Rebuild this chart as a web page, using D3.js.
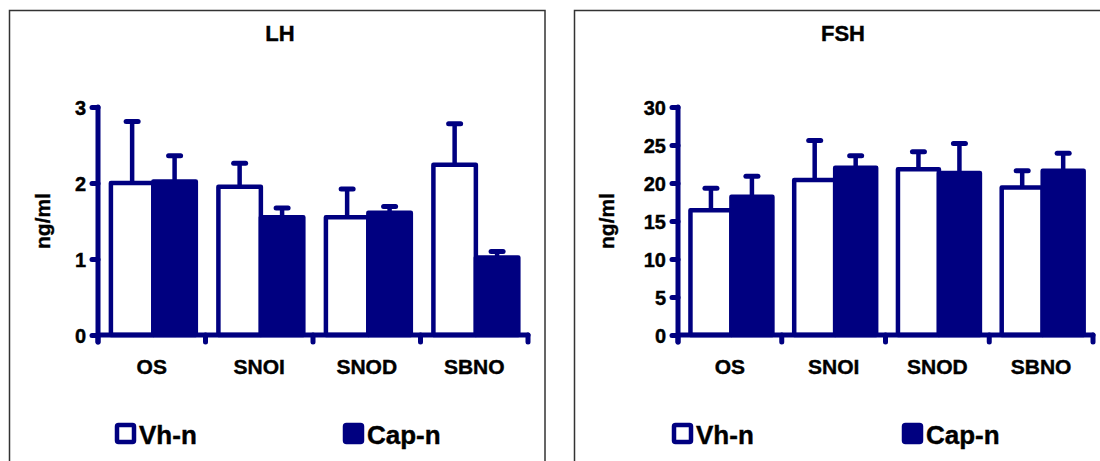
<!DOCTYPE html>
<html>
<head>
<meta charset="utf-8">
<script src="https://cdn.jsdelivr.net/npm/d3@7"></script>
<style>
  body { margin: 0; background: #fff; }
  text { font-family: Arial, "Liberation Sans", sans-serif; font-weight: bold; fill: #000; stroke: #000; stroke-width: 0.4px; }
</style>
</head>
<body>
<script>
var categories = ["OS", "SNOI", "SNOD", "SBNO"];
var seriesNames = ["Vh-n", "Cap-n"];

// LH (ng/ml): means and upper error bar ends
var lhVh = [2.0, 1.95, 1.55, 2.24];
var lhVhErr = [2.81, 2.26, 1.92, 2.78];
var lhCap = [2.02, 1.55, 1.61, 1.02];
var lhCapErr = [2.36, 1.67, 1.69, 1.10];
var lhTicks = [0, 1, 2, 3];

// FSH (ng/ml)
var fshVh = [16.4, 20.4, 21.8, 19.4];
var fshVhErr = [19.3, 25.6, 24.1, 21.6];
var fshCap = [18.2, 22.0, 21.3, 21.6];
var fshCapErr = [20.9, 23.6, 25.2, 23.9];
var fshTicks = [0, 5, 10, 15, 20, 25, 30];

var navy = "#000080";
var W = 1100, H = 461;

var svg = d3.select("body").append("svg")
    .attr("width", W)
    .attr("height", H);

function drawPanel(p) {
    var g = svg.append("g");

    // panel frame
    g.append("rect")
        .attr("x", p.frame[0]).attr("y", 10.5)
        .attr("width", p.frame[1] - p.frame[0]).attr("height", H)
        .attr("fill", "none").attr("stroke", "#333").attr("stroke-width", 1.5);

    g.append("text")
        .attr("x", p.titleX).attr("y", 41)
        .attr("text-anchor", "middle")
        .style("font-size", "22px")
        .text(p.title);

    var x = d3.scaleBand().domain(categories).range([p.x0, p.x1]);
    var y = d3.scaleLinear().domain([0, p.max]).range([335, 107]);
    var bw = x.bandwidth() * 0.395, off = x.bandwidth() * 0.12;

    var rows = categories.map(function(c, i) {
        return [
            {cat: c, k: 0, v: p.vh[i], e: p.vhErr[i]},
            {cat: c, k: 1, v: p.cap[i], e: p.capErr[i]}
        ];
    }).flat();

    // error bars first, bars on top
    var err = g.selectAll(".err").data(rows).enter().append("g");
    err.append("line")
        .attr("x1", function(d) { return x(d.cat) + off + bw * d.k + bw / 2; })
        .attr("x2", function(d) { return x(d.cat) + off + bw * d.k + bw / 2; })
        .attr("y1", function(d) { return y(d.v); })
        .attr("y2", function(d) { return y(d.e); })
        .attr("stroke", navy).attr("stroke-width", 4.5);
    err.append("line")
        .attr("x1", function(d) { return x(d.cat) + off + bw * d.k + bw / 2 - 6; })
        .attr("x2", function(d) { return x(d.cat) + off + bw * d.k + bw / 2 + 6; })
        .attr("y1", function(d) { return y(d.e); })
        .attr("y2", function(d) { return y(d.e); })
        .attr("stroke", navy).attr("stroke-width", 5).attr("stroke-linecap", "round");

    g.selectAll(".bar").data(rows).enter().append("rect")
        .attr("x", function(d) { return x(d.cat) + off + bw * d.k; })
        .attr("y", function(d) { return y(d.v); })
        .attr("width", bw)
        .attr("height", function(d) { return y(0) - y(d.v); })
        .attr("fill", function(d) { return d.k ? navy : "#fff"; })
        .attr("stroke", navy).attr("stroke-width", 4.5)
        .attr("stroke-linejoin", "round");

    // y axis
    var ya = g.append("g").attr("transform", "translate(" + p.x0 + ",0)")
        .call(d3.axisLeft(y).tickValues(p.ticks).tickFormat(d3.format("d")).tickSize(6).tickPadding(6));
    ya.select(".domain").remove();
    ya.selectAll(".tick line").attr("stroke", navy).attr("stroke-width", 5).attr("stroke-linecap", "round");
    ya.selectAll(".tick text").style("font-size", "20px").attr("fill", "#000").attr("dy", "0.36em");
    g.append("line")
        .attr("x1", p.x0).attr("x2", p.x0).attr("y1", y(p.max)).attr("y2", y(0) + 7)
        .attr("stroke", navy).attr("stroke-width", 5).attr("stroke-linecap", "round");

    // x axis with ticks at category boundaries
    var edges = categories.map(function(c) { return x(c); }).concat([p.x1]);
    g.append("line")
        .attr("x1", p.x0).attr("x2", p.x1).attr("y1", y(0)).attr("y2", y(0))
        .attr("stroke", navy).attr("stroke-width", 5).attr("stroke-linecap", "round");
    g.selectAll(".xt").data(edges).enter().append("line")
        .attr("x1", function(d) { return d; }).attr("x2", function(d) { return d; })
        .attr("y1", y(0)).attr("y2", y(0) + 7)
        .attr("stroke", navy).attr("stroke-width", 5).attr("stroke-linecap", "round");
    g.selectAll(".xl").data(categories).enter().append("text")
        .attr("x", function(d) { return x(d) + x.bandwidth() / 2; })
        .attr("y", 374)
        .attr("text-anchor", "middle")
        .style("font-size", "21px")
        .text(function(d) { return d; });

    g.append("text")
        .attr("transform", "translate(" + (p.labelX) + ",221) rotate(-90)")
        .attr("text-anchor", "middle")
        .style("font-size", "21px")
        .text("ng/ml");

    // legend
    var lg = g.selectAll(".lg").data(seriesNames).enter().append("g")
        .attr("transform", function(d, i) { return "translate(" + p.legX[i] + ",425)"; });
    lg.append("rect")
        .attr("x", 2).attr("y", 0).attr("width", 17).attr("height", 17).attr("rx", 1.5)
        .attr("fill", function(d, i) { return i ? navy : "#fff"; })
        .attr("stroke", navy).attr("stroke-width", 4.5);
    lg.append("text")
        .attr("x", 24).attr("y", 19)
        .style("font-size", "26px")
        .text(function(d) { return d; });
}

drawPanel({
    title: "LH", titleX: 280, frame: [9.5, 545], x0: 98, x1: 528, max: 3, ticks: lhTicks,
    vh: lhVh, vhErr: lhVhErr, cap: lhCap, capErr: lhCapErr, labelX: 50, legX: [115, 343]
});
drawPanel({
    title: "FSH", titleX: 843, frame: [574.5, 1120], x0: 678, x1: 1093, max: 30, ticks: fshTicks,
    vh: fshVh, vhErr: fshVhErr, cap: fshCap, capErr: fshCapErr, labelX: 614, legX: [672, 902]
});
</script>
</body>
</html>
